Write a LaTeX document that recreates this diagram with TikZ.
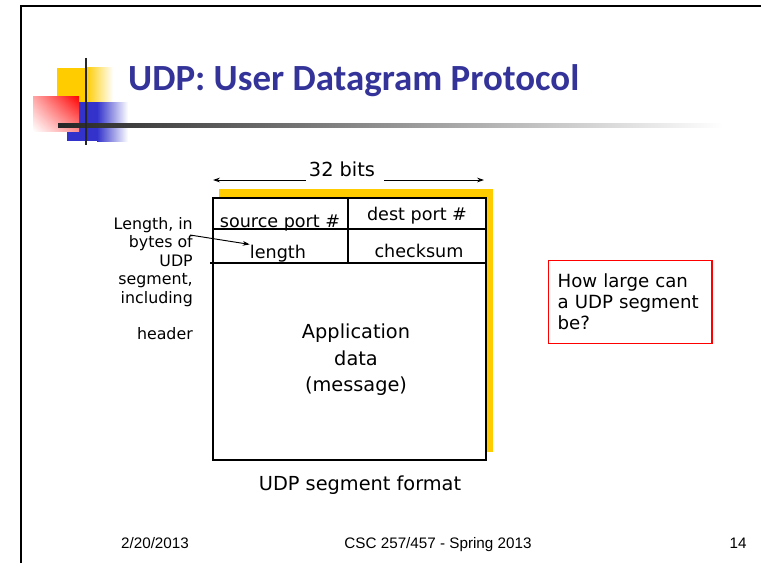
\documentclass[tikz,border=0pt]{standalone}
\usepackage{fontspec}
\setmainfont{DejaVu Sans}
\newfontfamily\titlefont{Carlito}
\newfontfamily\footfont{Liberation Sans}
\usetikzlibrary{arrows.meta,positioning,calc,shadings}
\definecolor{slidegold}{RGB}{255,204,0}
\definecolor{slideblue}{RGB}{51,51,204}
\definecolor{titleblue}{RGB}{51,51,153}

\begin{document}
\begin{tikzpicture}[
    x=0.03cm, y=-0.03cm,
    every node/.style={inner sep=0pt},
    segbox/.style={draw, fill=white, line width=1.4pt, minimum width=8.19cm, minimum height=7.86cm},
    fieldline/.style={line width=1.3pt},
    field/.style={font=\fontsize{15}{18}\selectfont, anchor=base},
    body/.style={font=\fontsize{16.5}{22.5}\selectfont, align=center},
    note/.style={font=\fontsize{13.5}{15.8}\selectfont, align=right},
    question/.style={draw=red, line width=1pt, font=\fontsize{15.5}{18}\selectfont, align=left,
        text width=124pt, inner xsep=7.7pt, minimum height=70.8pt},
    footer/.style={font=\footfont\fontsize{13}{15}\selectfont, anchor=base},
    arrow/.style={-{Stealth[length=6pt,width=4pt]}, line width=0.8pt},
]
\useasboundingbox (0,0) rectangle (761,563);
\fill[white] (0,0) rectangle (761,563);

% Slide frame
\draw[line width=1.7pt] (21,563) -- (21,6) -- (761,6);

% Logo
\fill[slidegold] (57,68) rectangle (86,102);
\shade[left color=slidegold, right color=white] (86,68) rectangle (113,102);
\fill[slideblue] (67,102) rectangle (97,141);
\shade[left color=slideblue, right color=white] (97,102) rectangle (128,141);
\shade[upper right=red, upper left=red!35!white, lower right=red!45!white, lower left=white] (33,96) rectangle (79,131);
\shade[left color=black!85, middle color=black!30, right color=white] (58,123) rectangle (723,127);
\draw[line width=2.5pt, black!85] (86,58) -- (86,145);

% Title
\node[font=\titlefont\bfseries\fontsize{31.5}{36}\selectfont, text=titleblue, anchor=base west] (title) at (128,90) {UDP: User Datagram Protocol};

% Segment box
\node[segbox, draw=none, fill=slidegold] (shadow) at (356,320.5) {};
\node[segbox] (segment) at (349.5,329) {};
\draw[fieldline] ($(segment.north west)+(0,32)$) -- ($(segment.north east)+(0,32)$);
\draw[fieldline] ($(segment.north west)+(-2,66)$) -- ($(segment.north east)+(-2,66)$);
\draw[fieldline] ($(segment.north)+(-1.5,0)$) -- ($(segment.north)+(-1.5,67)$);

% Header fields
\node[field] (srcport) at (280,227) {source port \#};
\node[field] (dstport) at (417,220) {dest port \#};
\node[field] (length) at (278,258) {length};
\node[field] (checksum) at (419,257) {checksum};

% Payload and caption
\node[body] (appdata) at (356,360) {Application\\data\\(message)};
\node[body, anchor=base] (caption) at (360,490) {UDP segment format};

% Width arrows
\node[body, anchor=base] (bits) at (342,176) {32 bits};
\coordinate (bitsL) at (213,180);
\coordinate (bitsR) at (484,180);
\draw[arrow] ($(bits.base west)+(-3,4)$) -- (bitsL);
\draw[arrow] ($(bits.base east)+(9,4)$) -- (bitsR);

% Length note
\node[note, anchor=north east] (lennote) at (193,217) {Length, in\\bytes of\\UDP\\segment,\\including\\[15pt]header};
\coordinate (lenfrom) at (190,235);
\draw[arrow] (lenfrom) -- (length.north west);

% Question
\node[question, anchor=north west] (howlarge) at (548,260) {How large can\\a UDP segment\\be?};

% Footer
\node[footer] (date) at (155,548) {2/20/2013};
\node[footer] (course) at (438,548) {CSC 257/457 - Spring 2013};
\node[footer] (pagenum) at (738,548) {14};

\end{tikzpicture}
\end{document}
